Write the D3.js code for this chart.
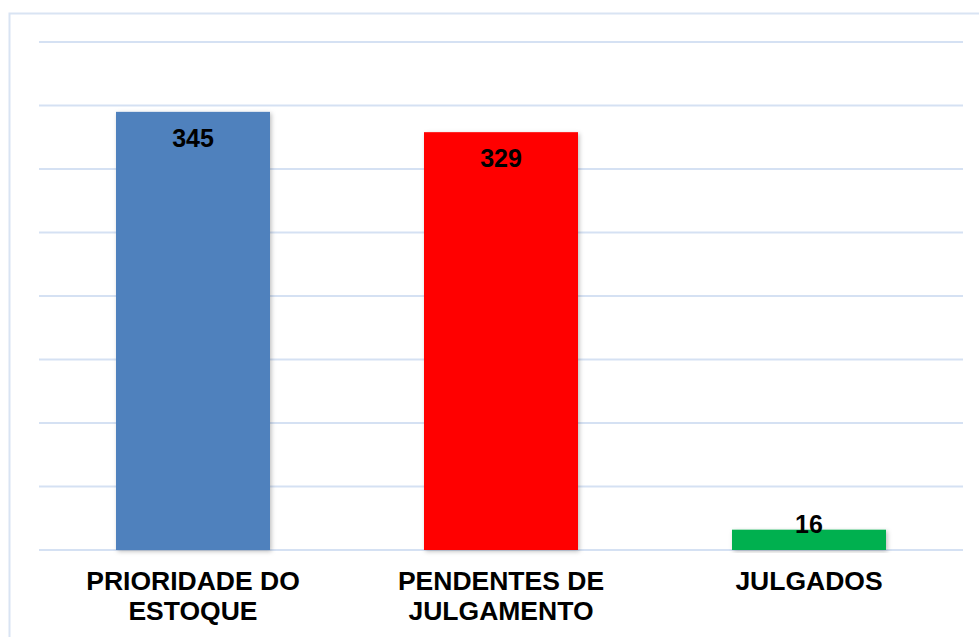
<!DOCTYPE html>
<html>
<head>
<meta charset="utf-8">
<script src="https://cdn.jsdelivr.net/npm/d3@7"></script>
<style>
html,body{margin:0;padding:0;background:#fff;}
svg{display:block;font-family:"Liberation Sans",Arial,sans-serif;}
</style>
</head>
<body>
<svg id="chart" width="979" height="637"></svg>
<script>
const categories = [["PRIORIDADE DO","ESTOQUE"],["PENDENTES DE","JULGAMENTO"],["JULGADOS"]];
const values = [345, 329, 16];
const colors = ["#4f81bd", "#ff0000", "#00b050"];
const gridTicks = [0, 50, 100, 150, 200, 250, 300, 350, 400];

const svg = d3.select("#chart");
const plot = {left: 39, right: 963, top: 42, bottom: 550};

const defs = svg.append("defs");
const f = defs.append("filter").attr("id","shadow").attr("x","-10%").attr("y","-10%").attr("width","120%").attr("height","120%");
f.append("feDropShadow").attr("dx",1.5).attr("dy",1.5).attr("stdDeviation",2).attr("flood-color","#000").attr("flood-opacity",0.25);

// outer border
svg.append("rect").attr("x",9.5).attr("y",13.5).attr("width",1000).attr("height",700)
  .attr("fill","none").attr("stroke","#d9e4f3").attr("stroke-width",2);

const idx = d3.range(values.length);
const x = d3.scaleBand().domain(idx).range([plot.left, plot.right]).paddingInner(0.5).paddingOuter(0.25);
const y = d3.scaleLinear().domain([0, 400]).range([plot.bottom, plot.top]);

// gridlines
svg.append("g").selectAll("line").data(gridTicks).join("line")
  .attr("x1", plot.left).attr("x2", plot.right)
  .attr("y1", d => y(d)).attr("y2", d => y(d))
  .attr("stroke", "#d5e1f3").attr("stroke-width", 2);

// bars
svg.append("g").selectAll("rect").data(idx).join("rect")
  .attr("x", i => x(i)).attr("width", x.bandwidth())
  .attr("y", i => y(values[i])).attr("height", i => y(0) - y(values[i]))
  .attr("fill", i => colors[i]).attr("filter","url(#shadow)");

// value labels
svg.append("g").selectAll("text").data(idx).join("text")
  .attr("x", i => x(i) + x.bandwidth()/2)
  .attr("y", i => Math.min(y(values[i]) + 35, y(0) - 17))
  .attr("text-anchor","middle").attr("font-size", 25).attr("font-weight","bold").attr("fill","#000")
  .text(i => values[i]);

// category labels
const cat = svg.append("g").selectAll("text").data(idx).join("text")
  .attr("x", i => x(i) + x.bandwidth()/2)
  .attr("y", 590)
  .attr("text-anchor","middle").attr("font-size", 26.5).attr("font-weight","bold").attr("fill","#000");
cat.each(function(i){
  const t = d3.select(this);
  categories[i].forEach((line, k) => {
    t.append("tspan").attr("x", x(i) + x.bandwidth()/2).attr("dy", k === 0 ? 0 : 30).text(line);
  });
});
</script>
</body>
</html>
